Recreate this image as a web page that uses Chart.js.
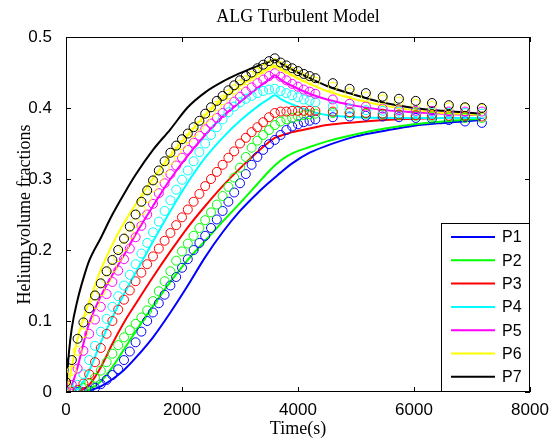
<!DOCTYPE html>
<html>
<head>
<meta charset="utf-8">
<script src="https://cdn.jsdelivr.net/npm/chart.js@4.4.0/dist/chart.umd.min.js"></script>
<style>
  html, body { margin: 0; padding: 0; background: #fff; }
  #wrap { width: 553px; height: 444px; }
</style>
</head>
<body>
<div id="wrap"><canvas id="heliumChart" width="553" height="444"></canvas></div>
<script>
// Probe names and colours
const seriesNames = ["P1", "P2", "P3", "P4", "P5", "P6", "P7"];
const seriesColors = ["#0000ff", "#00ff00", "#ff0000", "#00ffff", "#ff00ff", "#ffff00", "#000000"];

// Simulated curves (solid lines)
const simTime = [0, 50, 100, 200, 300, 400, 600, 800, 1000, 1200, 1500, 1800, 2100, 2400, 2700,
                 3000, 3300, 3500, 3600, 3700, 3900, 4200, 4500, 5000, 5500, 6000, 6500, 7000, 7150];
const simP1 = [0, 0, 0, 0, 0, 0.002, 0.008, 0.018, 0.031, 0.048, 0.077, 0.112, 0.150, 0.190, 0.225,
               0.255, 0.280, 0.295, 0.302, 0.309, 0.322, 0.337, 0.347, 0.360, 0.368, 0.375, 0.379, 0.382, 0.383];
const simP2 = [0, 0, 0, 0, 0, 0.003, 0.015, 0.035, 0.060, 0.085, 0.121, 0.155, 0.186, 0.213, 0.240,
               0.266, 0.293, 0.311, 0.319, 0.326, 0.336, 0.345, 0.353, 0.363, 0.371, 0.377, 0.381, 0.384, 0.385];
const simP3 = [0, 0, 0, 0, 0.004, 0.010, 0.035, 0.068, 0.098, 0.124, 0.162, 0.198, 0.232, 0.262, 0.290,
               0.315, 0.338, 0.352, 0.358, 0.361, 0.366, 0.371, 0.376, 0.380, 0.383, 0.385, 0.386, 0.386, 0.386];
const simP4 = [0, 0, 0, 0.005, 0.015, 0.030, 0.070, 0.105, 0.138, 0.168, 0.212, 0.255, 0.295, 0.330, 0.358,
               0.382, 0.402, 0.413, 0.418, 0.413, 0.405, 0.396, 0.390, 0.387, 0.386, 0.386, 0.386, 0.386, 0.386];
const simP5 = [0, 0.003, 0.010, 0.035, 0.068, 0.097, 0.135, 0.165, 0.193, 0.222, 0.262, 0.300, 0.333, 0.362, 0.388,
               0.408, 0.428, 0.440, 0.446, 0.440, 0.431, 0.420, 0.412, 0.403, 0.397, 0.394, 0.392, 0.390, 0.390];
const simP6 = [0, 0.015, 0.035, 0.075, 0.104, 0.127, 0.172, 0.208, 0.238, 0.264, 0.301, 0.333, 0.362, 0.390, 0.413,
               0.431, 0.447, 0.456, 0.460, 0.455, 0.446, 0.434, 0.424, 0.412, 0.403, 0.397, 0.393, 0.391, 0.390];
const simP7 = [0, 0.055, 0.090, 0.130, 0.160, 0.185, 0.217, 0.250, 0.279, 0.306, 0.341, 0.370, 0.401, 0.422, 0.437,
               0.449, 0.459, 0.465, 0.468, 0.463, 0.454, 0.442, 0.431, 0.418, 0.407, 0.400, 0.396, 0.393, 0.392];

// Measured values (circles)
const expTime = [0, 100, 200, 300, 400, 500, 600, 700, 800, 900,
                 1000, 1100, 1200, 1300, 1400, 1500, 1600, 1700, 1800, 1900,
                 2000, 2100, 2200, 2300, 2400, 2500, 2600, 2700, 2800, 2900,
                 3000, 3100, 3200, 3300, 3400, 3500, 3600, 3700, 3800, 3900,
                 4000, 4100, 4200, 4300,
                 4600, 4890, 5170, 5460, 5740, 6030, 6310, 6600, 6880, 7170];
const expP1 = [0, 0, 0, 0, 0.002, 0.006, 0.011, 0.017, 0.024, 0.032,
               0.045, 0.057, 0.070, 0.085, 0.100, 0.112, 0.125, 0.137, 0.150, 0.162,
               0.175, 0.187, 0.200, 0.210, 0.220, 0.231, 0.243, 0.255, 0.268, 0.281,
               0.294, 0.307, 0.320, 0.331, 0.341, 0.349, 0.355, 0.362, 0.369, 0.374,
               0.377, 0.380, 0.382, 0.384,
               0.387, 0.388, 0.389, 0.388, 0.387, 0.386, 0.385, 0.383, 0.381, 0.379];
const expP2 = [0, 0, 0.002, 0.006, 0.012, 0.020, 0.030, 0.042, 0.054, 0.066,
               0.077, 0.087, 0.096, 0.105, 0.115, 0.128, 0.142, 0.156, 0.170, 0.185,
               0.198, 0.209, 0.220, 0.231, 0.242, 0.253, 0.264, 0.276, 0.289, 0.302,
               0.316, 0.331, 0.344, 0.354, 0.362, 0.369, 0.376, 0.381, 0.384, 0.386,
               0.388, 0.390, 0.391, 0.392,
               0.393, 0.393, 0.392, 0.391, 0.390, 0.389, 0.388, 0.387, 0.386, 0.386];
const expP3 = [0, 0, 0.003, 0.012, 0.025, 0.042, 0.062, 0.082, 0.100, 0.116,
               0.130, 0.143, 0.156, 0.168, 0.180, 0.191, 0.202, 0.213, 0.224, 0.235,
               0.246, 0.257, 0.268, 0.279, 0.290, 0.300, 0.310, 0.320, 0.330, 0.339,
               0.350, 0.358, 0.366, 0.373, 0.380, 0.387, 0.393, 0.395, 0.395, 0.396,
               0.396, 0.396, 0.396, 0.396,
               0.395, 0.394, 0.393, 0.392, 0.391, 0.390, 0.390, 0.389, 0.389, 0.388];
const expP4 = [0, 0.002, 0.010, 0.025, 0.045, 0.065, 0.085, 0.103, 0.120, 0.135,
               0.150, 0.165, 0.180, 0.195, 0.210, 0.225, 0.240, 0.255, 0.270, 0.285,
               0.299, 0.312, 0.325, 0.338, 0.350, 0.362, 0.373, 0.384, 0.394, 0.402,
               0.408, 0.413, 0.417, 0.421, 0.424, 0.426, 0.427, 0.424, 0.421, 0.418,
               0.415, 0.412, 0.410, 0.408,
               0.402, 0.399, 0.397, 0.396, 0.395, 0.394, 0.394, 0.393, 0.393, 0.392];
const expP5 = [0, 0.010, 0.033, 0.058, 0.082, 0.102, 0.120, 0.138, 0.155, 0.171,
               0.187, 0.202, 0.218, 0.234, 0.250, 0.265, 0.280, 0.294, 0.307, 0.319,
               0.330, 0.341, 0.351, 0.361, 0.370, 0.378, 0.386, 0.393, 0.401, 0.409,
               0.416, 0.423, 0.429, 0.435, 0.440, 0.445, 0.449, 0.444, 0.439, 0.434,
               0.430, 0.426, 0.423, 0.420,
               0.412, 0.406, 0.402, 0.399, 0.397, 0.396, 0.396, 0.395, 0.395, 0.395];
const expP6 = [0.008, 0.030, 0.058, 0.083, 0.104, 0.124, 0.142, 0.159, 0.175, 0.190,
               0.205, 0.222, 0.238, 0.256, 0.273, 0.288, 0.302, 0.315, 0.327, 0.338,
               0.348, 0.357, 0.366, 0.375, 0.385, 0.394, 0.403, 0.411, 0.419, 0.426,
               0.433, 0.439, 0.445, 0.450, 0.455, 0.460, 0.463, 0.459, 0.455, 0.451,
               0.447, 0.443, 0.440, 0.437,
               0.430, 0.422, 0.416, 0.412, 0.409, 0.406, 0.403, 0.401, 0.400, 0.399];
const expP7 = [0.014, 0.045, 0.075, 0.098, 0.118, 0.136, 0.153, 0.170, 0.186, 0.200,
               0.216, 0.233, 0.250, 0.268, 0.284, 0.298, 0.312, 0.325, 0.337, 0.347,
               0.356, 0.364, 0.373, 0.382, 0.392, 0.401, 0.410, 0.417, 0.425, 0.432,
               0.439, 0.445, 0.450, 0.456, 0.461, 0.466, 0.470, 0.464, 0.460, 0.456,
               0.452, 0.448, 0.445, 0.442,
               0.435, 0.427, 0.421, 0.416, 0.413, 0.410, 0.407, 0.404, 0.401, 0.400];

const xTicks = [0, 2000, 4000, 6000, 8000];
const yTicks = [0, 0.1, 0.2, 0.3, 0.4, 0.5];

const chartTitle = "ALG Turbulent Model";
const xTitle = "Time(s)";
const yTitle = "Helium volume fractions";

const simSeries = [simP1, simP2, simP3, simP4, simP5, simP6, simP7];
const expSeries = [expP1, expP2, expP3, expP4, expP5, expP6, expP7];

const SANS = "'Liberation Sans', Arial, Helvetica, sans-serif";
const SERIF = "'Liberation Serif', 'Times New Roman', serif";

const toPoints = (xs, ys) => xs.map((x, i) => ({ x: x, y: ys[i] }));

const datasets = [];
simSeries.forEach((vals, i) => {
    datasets.push({
        label: seriesNames[i],
        data: toPoints(simTime, vals),
        showLine: true,
        borderColor: seriesColors[i],
        backgroundColor: seriesColors[i],
        borderWidth: 2,
        pointRadius: 0,
        cubicInterpolationMode: 'monotone',
        order: 100 - i
    });
});
expSeries.forEach((vals, i) => {
    datasets.push({
        label: seriesNames[i] + " exp",
        data: toPoints(expTime, vals),
        showLine: false,
        pointStyle: 'circle',
        pointRadius: 4.5,
        pointBorderWidth: 1,
        pointBorderColor: seriesColors[i],
        pointBackgroundColor: 'rgba(0,0,0,0)',
        order: 50 - i
    });
});

// axes box, inward ticks, titles and the line legend
const matlabFrame = {
    id: 'matlabFrame',
    afterDatasetsDraw(chart) {
        const ctx = chart.ctx;
        const a = chart.chartArea;
        const xs = chart.scales.x, ys = chart.scales.y;
        ctx.save();
        ctx.strokeStyle = '#000';
        ctx.lineWidth = 1;
        ctx.beginPath();
        ctx.rect(a.left + 0.5, a.top + 0.5, a.right - a.left - 1, a.bottom - a.top - 1);
        ctx.stroke();

        const tl = 5;
        ctx.beginPath();
        xTicks.forEach(v => {
            const px = Math.round(xs.getPixelForValue(v)) + 0.5;
            ctx.moveTo(px, a.bottom); ctx.lineTo(px, a.bottom - tl);
            ctx.moveTo(px, a.top); ctx.lineTo(px, a.top + tl);
        });
        yTicks.forEach(v => {
            const py = Math.round(ys.getPixelForValue(v)) + 0.5;
            ctx.moveTo(a.left, py); ctx.lineTo(a.left + tl, py);
            ctx.moveTo(a.right, py); ctx.lineTo(a.right - tl, py);
        });
        ctx.stroke();

        // titles
        ctx.fillStyle = '#000';
        ctx.font = "18px " + SERIF;
        ctx.textAlign = 'center';
        ctx.textBaseline = 'middle';
        const cx = (a.left + a.right) / 2;
        ctx.fillText(chartTitle, cx, 17);
        ctx.fillText(xTitle, cx, 429);
        ctx.save();
        ctx.translate(25, (a.top + a.bottom) / 2);
        ctx.rotate(-Math.PI / 2);
        ctx.fillText(yTitle, 0, 0);
        ctx.restore();

        // legend (lines only)
        const bw = 89, bh = 169;
        const bx = a.right - bw, by = a.bottom - bh;
        ctx.fillStyle = '#fff';
        ctx.fillRect(bx, by, bw, bh);
        ctx.strokeStyle = '#000';
        ctx.strokeRect(bx + 0.5, by + 0.5, bw - 1, bh - 1);
        ctx.font = "16px " + SANS;
        ctx.textAlign = 'left';
        seriesNames.forEach((name, i) => {
            const y = by + 14 + i * 23.3;
            ctx.strokeStyle = seriesColors[i];
            ctx.lineWidth = 2;
            ctx.beginPath();
            ctx.moveTo(bx + 10, y); ctx.lineTo(bx + 54, y);
            ctx.stroke();
            ctx.fillStyle = '#000';
            ctx.fillText(name, bx + 61, y + 1);
        });
        ctx.restore();
    }
};

const tickFont = { family: SANS, size: 17 };

new Chart(document.getElementById('heliumChart').getContext('2d'), {
    type: 'scatter',
    data: { datasets: datasets },
    options: {
        responsive: false,
        animation: false,
        devicePixelRatio: 1,
        layout: { padding: { top: 37, right: 23, left: 0, bottom: 0 } },
        plugins: { legend: { display: false }, tooltip: { enabled: false } },
        scales: {
            x: {
                type: 'linear', min: 0, max: 8000,
                grid: { display: false }, border: { display: false },
                ticks: { font: tickFont, color: '#000', padding: 0, maxRotation: 0, callback: v => String(v) },
                afterBuildTicks: s => { s.ticks = xTicks.map(v => ({ value: v })); },
                afterFit: s => { s.height = 52; }
            },
            y: {
                type: 'linear', min: 0, max: 0.5,
                grid: { display: false }, border: { display: false },
                ticks: { font: tickFont, color: '#000', padding: 6, callback: v => String(Math.round(v * 10) / 10) },
                afterBuildTicks: s => { s.ticks = yTicks.map(v => ({ value: v })); },
                afterFit: s => { s.width = 66; }
            }
        }
    },
    plugins: [matlabFrame]
});
</script>
</body>
</html>
